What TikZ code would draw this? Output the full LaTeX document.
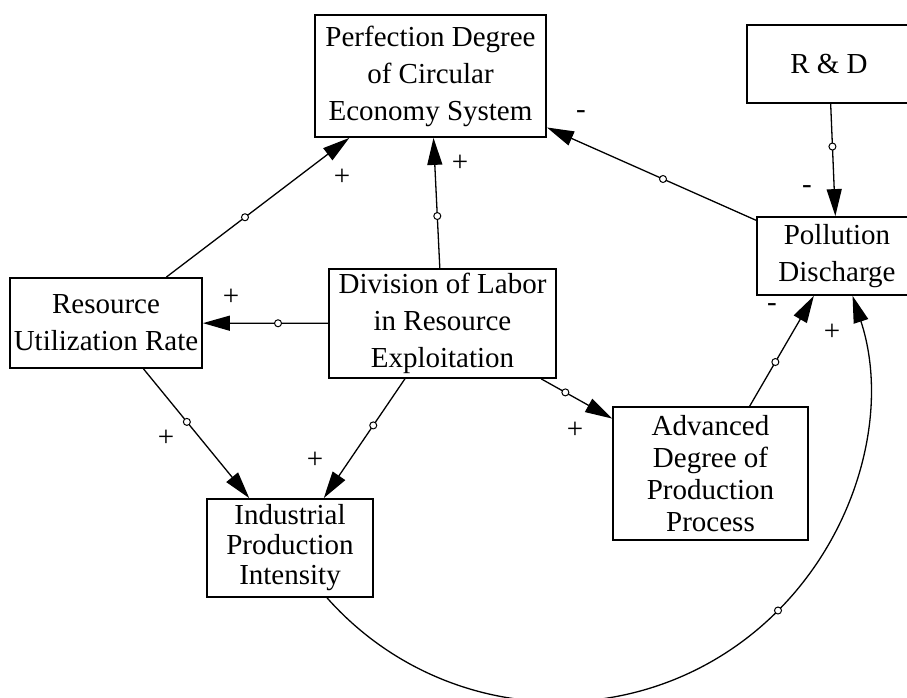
\documentclass[tikz,border=0pt]{standalone}
\usepackage{fontspec}
\setmainfont{Liberation Serif}
\usetikzlibrary{arrows.meta,calc}
\begin{document}
\begin{tikzpicture}[x=1pt,y=-1pt,
  var/.style={draw=black, line width=1.8pt, align=center, inner sep=0pt,
    font=\fontsize{29}{37}\selectfont},
  link/.style={line width=1.3pt, draw=black,
    -{Triangle[length=27pt,width=15pt]}},
  handle/.style={circle, draw=black, line width=1pt, fill=white,
    inner sep=0pt, minimum size=7pt},
  sign/.style={inner sep=0pt, font=\fontsize{29}{29}\selectfont}]
\useasboundingbox (0,0) rectangle (907,697);
\clip (0,0) rectangle (907,697);

% variables
\node[var, minimum width=231pt, minimum height=122pt] (pd) at (430.5,76)
  {Perfection Degree\\of Circular\\Economy System};
\node[var, minimum width=164pt, minimum height=78pt] (rd) at (829,64) {R \& D};
\node[var, minimum width=160pt, minimum height=78pt] (poll) at (837,256)
  {Pollution\\Discharge};
\node[var, minimum width=192pt, minimum height=90pt] (rur) at (106,323)
  {Resource\\Utilization Rate};
\node[var, minimum width=227pt, minimum height=109pt] (div) at (442.5,323.5)
  {Division of Labor\\in Resource\\Exploitation};
\node[var, minimum width=195pt, minimum height=133pt,
  font=\fontsize{29}{32}\selectfont] (adv) at (710.5,473.5)
  {Advanced\\Degree of\\Production\\Process};
\node[var, minimum width=166pt, minimum height=98pt,
  font=\fontsize{29}{30}\selectfont] (ind) at (290,548)
  {Industrial\\Production\\Intensity};

% causal links
\draw[link] (rur) -- node[handle, pos=0.43] (h1) {} (pd);
\draw[link] (div) -- node[handle, pos=0.40] (h2) {} (pd);
\draw[link] (poll) -- node[handle, pos=0.445] (h3) {} (pd);
\draw[link] (rd) -- node[handle, pos=0.38] (h4) {} (poll);
\draw[link] (div) -- node[handle, pos=0.40] (h5) {} (rur);
\draw[link] (rur) -- node[handle, pos=0.41] (h6) {} (ind);
\draw[link] (div) -- node[handle, pos=0.39] (h7) {} (ind);
\draw[link] (div) -- node[handle, pos=0.34] (h8) {} (adv);
\draw[link] (adv) -- node[handle, pos=0.40] (h9) {} (poll);
\draw[link] ($(ind.south)+(37.1,0)$) arc[start angle=138.4, end angle=-18.2, radius=309.5];
\node[handle] (h10) at (778,610.5) {};

% polarities
\node[sign] (s1) at (342,177) {+};
\node[sign] (s2) at (460,163) {+};
\node[sign] (s3) at (581,115) {-};
\node[sign] (s4) at (807,190) {-};
\node[sign] (s5) at (231,297) {+};
\node[sign] (s6) at (166,438) {+};
\node[sign] (s7) at (315,460) {+};
\node[sign] (s8) at (575,430) {+};
\node[sign] (s9) at (772,308) {-};
\node[sign] (s10) at (832,332) {+};
\end{tikzpicture}
\end{document}
